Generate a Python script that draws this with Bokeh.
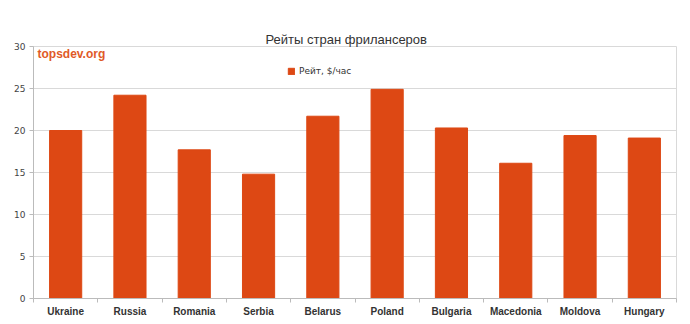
from bokeh.plotting import figure
from bokeh.models import ColumnDataSource, FixedTicker, Legend, LegendItem, Label, LinearAxis
from bokeh.embed import file_html
from bokeh.resources import INLINE

countries = ["Ukraine", "Russia", "Romania", "Serbia", "Belarus",
             "Poland", "Bulgaria", "Macedonia", "Moldova", "Hungary"]
rates = [20.0, 24.2, 17.7, 14.8, 21.7, 24.9, 20.3, 16.1, 19.4, 19.1]
y_ticks = [0, 5, 10, 15, 20, 25, 30]
series_name = "Рейт, $/час"
title_text = "Рейты стран фрилансеров"
watermark = "topsdev.org"

BAR = "#DD4814"
GRID = "#D9D9D9"

xs = [i + 0.5 for i in range(len(countries))]
src = ColumnDataSource(dict(x=xs, top=rates, name=countries))

p = figure(width=690, height=324, output_backend="svg", toolbar_location=None,
           x_range=(0, len(countries)), y_range=(0, 30),
           min_border_left=33, min_border_right=14, min_border_top=46, min_border_bottom=26)

p.title.text = title_text
p.title.align = "left"
p.title.offset = 232
p.title.standoff = 0
p.title.text_font = "Liberation Sans"
p.title.text_font_size = "13px"
p.title.text_font_style = "normal"
p.title.text_color = "#333333"

r = p.vbar(x="x", top="top", width=0.5, source=src, fill_color=BAR, line_color=BAR)

p.outline_line_color = GRID
p.background_fill_color = "white"
p.border_fill_color = "white"

# bottom x axis (configured directly, not through p.xaxis)
bottom_axis = p.below[0]
bottom_axis.ticker = FixedTicker(ticks=xs, minor_ticks=list(range(len(countries) + 1)))
bottom_axis.major_label_overrides = {x: c for x, c in zip(xs, countries)}
bottom_axis.major_tick_line_color = None
bottom_axis.minor_tick_in = 0
bottom_axis.minor_tick_out = 4
bottom_axis.minor_tick_line_color = "#BBBBBB"
bottom_axis.axis_line_color = "#BBBBBB"
bottom_axis.major_label_text_font = "Liberation Sans"
bottom_axis.major_label_text_font_style = "bold"
bottom_axis.major_label_text_font_size = "10px"
bottom_axis.major_label_text_color = "#333333"
bottom_axis.major_label_standoff = 1
p.xgrid.visible = False

# invisible, tick-less axis above the frame: only spacing between title and frame
spacer_axis = LinearAxis(ticker=FixedTicker(ticks=[]), axis_line_color=None,
                         major_tick_line_color=None, minor_tick_line_color=None,
                         major_tick_in=0, major_tick_out=18, minor_tick_in=0,
                         minor_tick_out=0, major_label_standoff=0)
p.add_layout(spacer_axis, "above")

# y axis
left_axis = p.left[0]
left_axis.ticker = FixedTicker(ticks=y_ticks)
left_axis.major_tick_in = 0
left_axis.major_tick_out = 4
left_axis.major_tick_line_color = "#BBBBBB"
left_axis.minor_tick_line_color = None
left_axis.axis_line_color = "#BBBBBB"
left_axis.major_label_text_font = "DejaVu Sans"
left_axis.major_label_text_font_size = "9px"
left_axis.major_label_text_color = "#444444"
left_axis.major_label_standoff = 4
p.ygrid.grid_line_color = GRID

legend = Legend(items=[LegendItem(label=series_name, renderers=[r])],
                location=(254, 222), orientation="horizontal",
                background_fill_alpha=0, border_line_color=None,
                padding=0, margin=0, glyph_width=8, glyph_height=8,
                label_text_font="DejaVu Sans", label_text_font_size="9px",
                label_text_color="#333333", label_standoff=4)
p.add_layout(legend, "center")

wm = Label(x=4, y=238, x_units="screen", y_units="screen", text=watermark,
           text_font="Liberation Sans", text_font_style="bold", text_font_size="12px",
           text_color="#DF5A28")
p.add_layout(wm)

open("out.html", "w").write(file_html(p, INLINE))
